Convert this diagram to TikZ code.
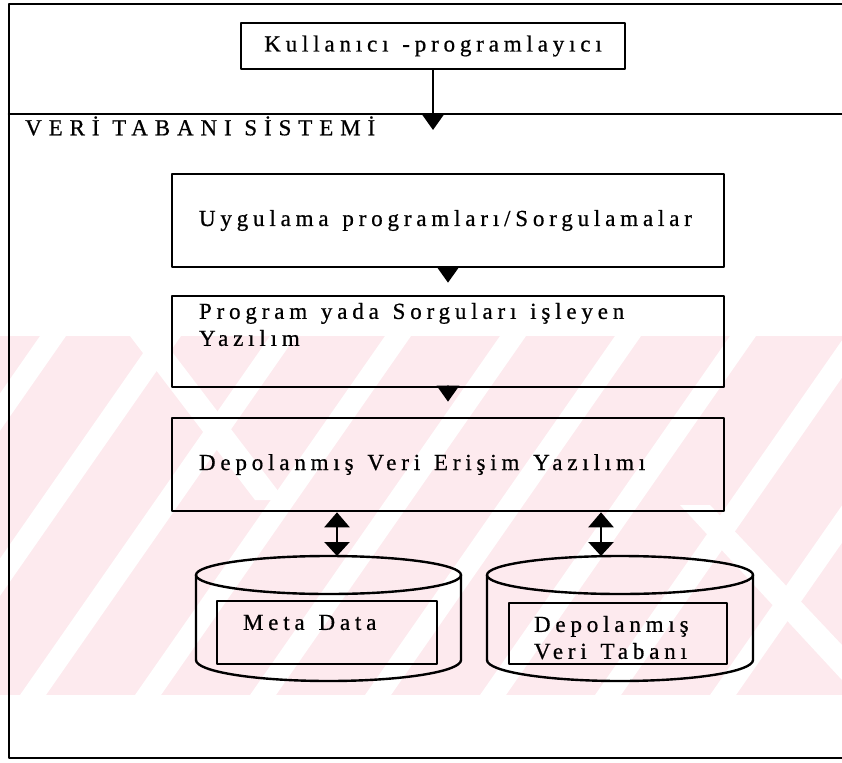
\documentclass[tikz,border=0pt]{standalone}
\usepackage{fontspec}
\setmainfont{Liberation Serif}
\newfontfamily\spaced[LetterSpace=21,WordSpace=1.3,FakeBold=0.7]{Liberation Serif}
\newfontfamily\widespaced[LetterSpace=30,FakeBold=0.7]{Liberation Serif}
\usetikzlibrary{arrows.meta}
\newcommand{\boxfont}{\spaced\fontsize{23}{27}\selectfont}
\definecolor{wmpink}{RGB}{253,234,238}

\begin{document}
\begin{tikzpicture}[line cap=round,line join=round,x=1pt,y=-1pt,
  box/.style={draw,line width=2.6pt,inner ysep=0pt,inner xsep=27pt,font=\boxfont},
  innerbox/.style={draw,line width=2.6pt,inner ysep=10pt,inner xsep=26pt,font=\boxfont},
  arr/.style={line width=2.6pt,-{Triangle[length=16pt,width=22pt]}},
  dblarr/.style={line width=2.4pt,{Triangle[length=15pt,width=25pt]}-{Triangle[length=14pt,width=25pt]}},
  frameline/.style={line width=2.6pt}]
            \useasboundingbox (0,0) rectangle (842,762);
            % watermark behind the diagram
            \begin{scope}
            \clip (0,336) rectangle (842,695);
            \fill [wmpink] (0,336) rectangle (842,695);
            \foreach \x in {-210,-95,20,135,250,365,480,595,710}
              \fill [white] (\x,695) -- (\x+26,695) -- (\x+276,336) -- (\x+250,336) -- cycle;
            \fill [white] (130,336) -- (160,336) -- (285,500) -- (255,500) -- cycle;
            \fill [white] (680,505) -- (710,505) -- (842,645) -- (842,680) -- cycle;
            \end{scope}
            % outer frame
            \draw [frameline] (842,4) -- (9,4) -- (9,758) -- (842,758);
            \draw [frameline] (9,114) -- (842,114);
            \node (user) at (433,46) [box,inner xsep=0pt,minimum width=384pt,minimum height=46pt] {Kullanıcı -programlayıcı};
            \coordinate (sysin) at (433,130);
            \draw [arr] (user.south) -- (sysin);
            \node (sys) at (25,126) [anchor=west,inner sep=0pt,font=\widespaced\fontsize{23}{27}\selectfont] {VERİ TABANI SİSTEMİ};
            % software layers
            \node (app) at (448,220.5) [box,minimum width=552pt,minimum height=93pt] {\parbox{498pt}{Uygulama programları/Sorgulamalar}};
            \node (proc) at (448,341.5) [box,inner ysep=4pt,minimum width=552pt,minimum height=91pt] {\parbox[c][83pt][t]{498pt}{\strut Program yada Sorguları işleyen\\Yazılım}};
            \node (access) at (448,464.5) [box,minimum width=552pt,minimum height=93pt] {\parbox{498pt}{Depolanmış Veri Erişim Yazılımı}};
            \draw [arr,shorten >=12pt] (app.south) -- (proc.north);
            \draw [arr,shorten >=15pt] (proc.south) -- (access.north);
            % storage
            \draw [line width=2.4pt] (328.5,575) ellipse (132.5 and 19);
            \draw [line width=2.4pt] (196,575) -- (196,660) arc (180:0:132.5 and 21) -- (461,575);
            \draw [line width=2.4pt] (620,575) ellipse (133 and 19);
            \draw [line width=2.4pt] (487,575) -- (487,660) arc (180:0:133 and 21) -- (753,575);
            \coordinate (metain) at (337,556);
            \coordinate (datain) at (601,556);
            \draw [dblarr] (access.south -| metain) -- (metain);
            \draw [dblarr] (access.south -| datain) -- (datain);
            \node (meta) at (327,632.5) [innerbox,minimum width=220pt,minimum height=63pt] {\parbox[c][43pt][t]{168pt}{\strut Meta Data}};
            \node (stored) at (618,633.5) [innerbox,inner xsep=25pt,minimum width=218pt,minimum height=61pt] {\parbox[c][41pt][t]{168pt}{\strut Depolanmış\\Veri Tabanı}};
            \end{tikzpicture}
\end{document}
